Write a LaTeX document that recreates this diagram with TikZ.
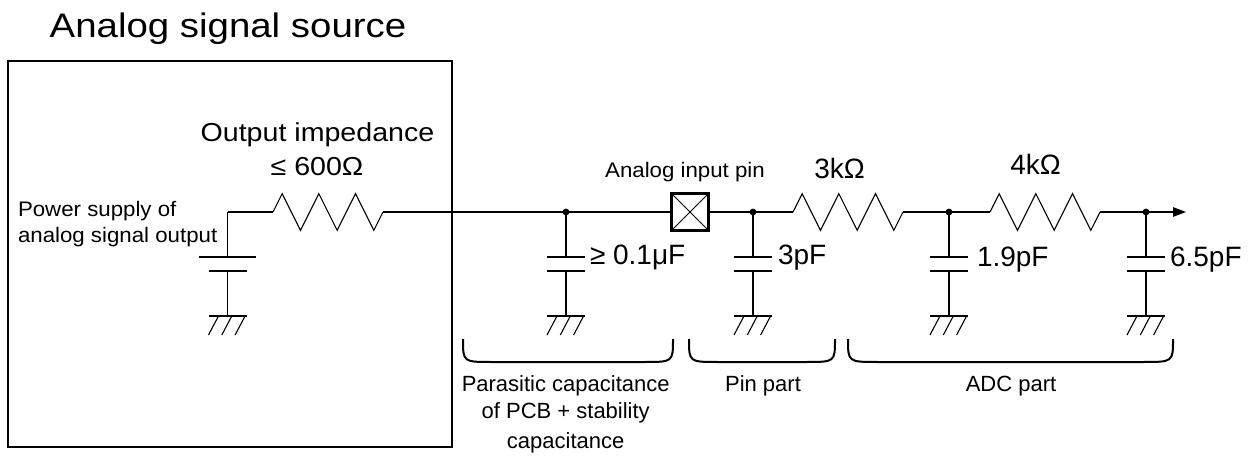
\documentclass[tikz,border=0pt]{standalone}
\usepackage{fontspec}
\setmainfont{Liberation Sans}
\usetikzlibrary{arrows.meta}
\newcommand{\fsz}[1]{\fontsize{#1}{#1}\selectfont}
\newcommand{\wid}[2]{\scalebox{#1}[1]{#2}}
\begin{document}
\begin{tikzpicture}[x=1pt,y=-1pt,
  wire/.style={line width=1.1pt},
  plate/.style={line width=2.2pt},
  lbl/.style={inner sep=0pt, outer sep=0pt},
  dotmark/.style={circle, fill, inner sep=0pt, minimum size=6.8pt},
  res/.pic={\draw[wire, line join=miter] (0,0) -- (9.17,-18.33) -- (27.5,18.33) -- (45.83,-18.33) -- (64.17,18.33) -- (82.5,-18.33) -- (100.83,18.33) -- (110,0);},
  gnd/.pic={\draw[wire] (-19,0) -- (19,0);
            \foreach \k in {0,1,2} {\draw[wire] (-9+13.3*\k,0) -- (-19+13.3*\k,19);}},
  bracestyle/.style={line width=2pt}
]
\useasboundingbox (0,0) rectangle (1253,457);

% source box and title
\draw[line width=2pt] (8,61) rectangle (452,447);
\node[lbl, anchor=base] (title) at (228,38) {\fsz{34}\wid{1.13}{Analog signal source}};

% power supply
\coordinate (sTop) at (227.5,212);
\coordinate (sP1) at (227.5,257.3);
\coordinate (sP2) at (227.5,270.7);
\coordinate (sG) at (227.5,316);
\draw[plate] (199,257.3) -- (256,257.3);
\draw[plate] (208.5,270.7) -- (246.5,270.7);
\draw[wire] (sP1) -- (sTop);
\draw[wire] (sP2) -- (sG);
\pic at (sG) {gnd};
\node[lbl, anchor=base west] (ps1) at (18,217) {\fsz{21}\wid{1.06}{Power supply of}};
\node[lbl, anchor=base west] (ps2) at (18,243) {\fsz{21}\wid{1.06}{analog signal output}};

% output impedance resistor
\coordinate (r1a) at (273,212);
\coordinate (r1b) at (383,212);
\draw[wire] (sTop) -- (r1a);
\pic at (r1a) {res};
\node[lbl, anchor=base] (oi1) at (317.5,141.5) {\fsz{26}\wid{1.1}{Output impedance}};
\node[lbl, anchor=base] (oi2) at (317,175.5) {\fsz{26}\wid{1.1}{≤ 600Ω}};

% junctions
\coordinate (n1) at (566,212);
\coordinate (n2) at (753,212);
\coordinate (n3) at (949,212);
\coordinate (n4) at (1146,212);
\coordinate (tip) at (1186,212);

% pin
\node[draw, line width=2.2pt, minimum size=37pt, inner sep=0pt] (pin) at (690,212) {};
\draw[line width=0.9pt] (pin.north west) -- (pin.south east);
\draw[line width=0.9pt] (pin.north east) -- (pin.south west);
\node[lbl, anchor=base] (pinlbl) at (685,178) {\fsz{21}\wid{1.06}{Analog input pin}};

% resistors 3k and 4k
\coordinate (r2a) at (793,212);
\coordinate (r2b) at (903,212);
\coordinate (r3a) at (990,212);
\coordinate (r3b) at (1100,212);
\pic at (r2a) {res};
\pic at (r3a) {res};
\node[lbl, anchor=base] (r2lbl) at (839.5,178.5) {\fsz{28}3kΩ};
\node[lbl, anchor=base] (r3lbl) at (1035.5,175) {\fsz{28}4kΩ};

% main wire
\draw[wire] (r1b) -- (n1) -- (pin.west);
\draw[wire] (pin.east) -- (n2) -- (r2a);
\draw[wire] (r2b) -- (n3) -- (r3a);
\draw[wire, -{Triangle[length=13pt,width=9.5pt]}] (r3b) -- (n4) -- (tip);

% capacitors to ground
\foreach \n/\x in {n1/566, n2/753, n3/949, n4/1146} {
  \coordinate (\n p1) at (\x,257.3);
  \coordinate (\n p2) at (\x,270.7);
  \coordinate (\n g) at (\x,316);
  \draw[wire] (\n) -- (\n p1);
  \draw[plate] (\x-19,257.3) -- (\x+19,257.3);
  \draw[plate] (\x-19,270.7) -- (\x+19,270.7);
  \draw[wire] (\n p2) -- (\n g);
  \pic at (\n g) {gnd};
  \node[dotmark] at (\n) {};
}
\node[lbl, anchor=base west] (c1lbl) at (590,265) {\fsz{28}≥ 0.1μF};
\node[lbl, anchor=base west] (c2lbl) at (778,265) {\fsz{28}3pF};
\node[lbl, anchor=base west] (c3lbl) at (977,266.5) {\fsz{28}1.9pF};
\node[lbl, anchor=base west] (c4lbl) at (1170,266.5) {\fsz{28}6.5pF};

% braces
\draw[bracestyle] (463,339) .. controls (463,362) .. (492,362) -- (644,362) .. controls (673,362) .. (673,339);
\draw[bracestyle] (689,339) .. controls (689,362) .. (718,362) -- (806,362) .. controls (835,362) .. (835,339);
\draw[bracestyle] (848,339) .. controls (848,362) .. (878,362) -- (1143,362) .. controls (1173,362) .. (1173,339);

\node[lbl, anchor=base] (b1a) at (565.7,391) {\fsz{22}Parasitic capacitance};
\node[lbl, anchor=base] (b1b) at (565.7,418) {\fsz{22}of PCB + stability};
\node[lbl, anchor=base] (b1c) at (565.7,448) {\fsz{22}capacitance};
\node[lbl, anchor=base] (b2) at (763,391) {\fsz{22}Pin part};
\node[lbl, anchor=base] (b3) at (1011,391.5) {\fsz{22}ADC part};
\end{tikzpicture}
\end{document}
